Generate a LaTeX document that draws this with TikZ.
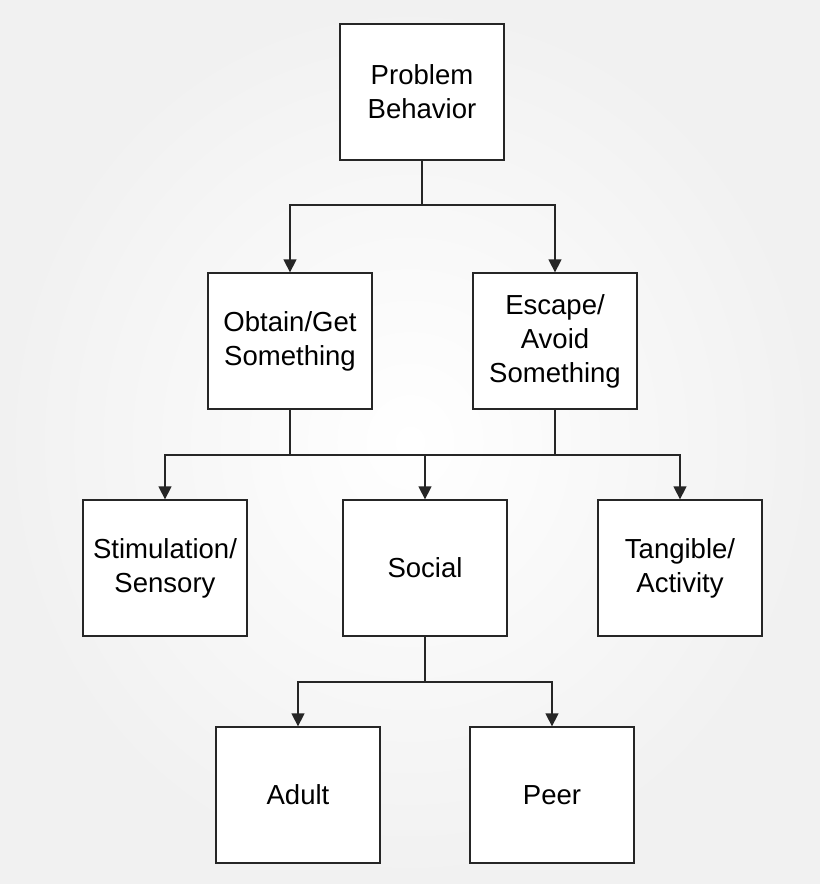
\documentclass[tikz,border=0pt]{standalone}
\usepackage{fontspec}
\setmainfont{Liberation Sans}
\usepackage{xcolor,tikz}
\usetikzlibrary{arrows.meta,positioning,calc}

\begin{document}
\begin{tikzpicture}[x=0.03cm,y=-0.03cm,
  box/.style={draw=black!85,line width=1.1pt,fill=white,minimum width=4.92cm,minimum height=4.08cm,align=center,inner sep=2pt,font=\fontsize{23.5}{29}\selectfont},
  arr/.style={-{Triangle[width=11pt,length=11pt]},line width=1.1pt,draw=black!85},
  ln/.style={line width=1.1pt,draw=black!85}]
\shade[inner color=white,outer color=gray!11] (0,0) rectangle (820,884);
\useasboundingbox (0,0) rectangle (820,884);
% boxes
\node[box] (prob) at (422,92){Problem\\Behavior};
\node[box] (obt) at (290,341){Obtain/Get\\Something};
\node[box] (esc) at (555,341){Escape/\\Avoid\\Something};
\node[box] (stim) at (165,568){Stimulation/\\Sensory};
\node[box] (soc) at (425,568){Social};
\node[box] (tang) at (680,568){Tangible/\\Activity};
\node[box] (adult) at (298,795){Adult};
\node[box] (peer) at (552,795){Peer};
% joints
\coordinate (j1) at (422,205);
\coordinate (j2) at (290,455);
\coordinate (j3) at (555,455);
\coordinate (j4) at (425,682);
% connectors
\draw[ln] (prob.south)--(j1);
\draw[arr] (j1)-|(obt.north);
\draw[arr] (j1)-|(esc.north);
\draw[ln] (obt.south)--(j2);
\draw[ln] (esc.south)--(j3);
\draw[ln] (j2)--(j3);
\draw[arr] (j2)-|(stim.north);
\draw[arr] (j2)-|(soc.north);
\draw[arr] (j3)-|(tang.north);
\draw[ln] (soc.south)--(j4);
\draw[arr] (j4)-|(adult.north);
\draw[arr] (j4)-|(peer.north);
\end{tikzpicture}
\end{document}
